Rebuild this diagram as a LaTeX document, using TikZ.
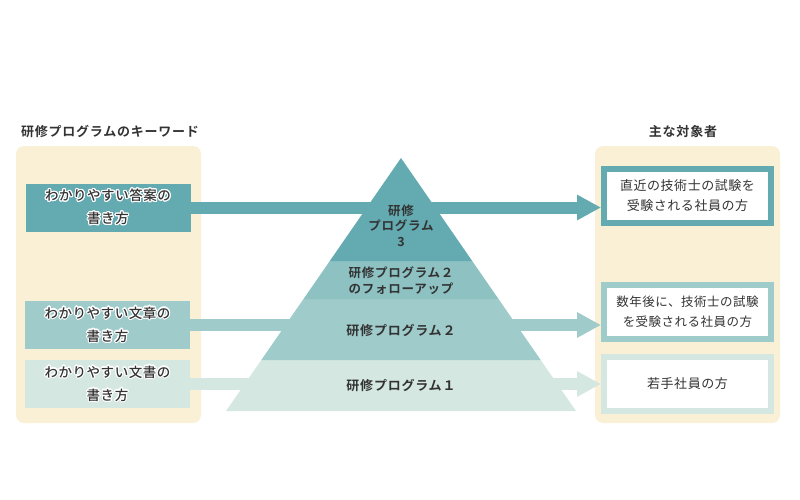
\documentclass[tikz,border=0pt]{standalone}
\usepackage{fontspec}
\setmainfont{Noto Sans CJK JP}[BoldFont={Noto Sans CJK JP Bold}]
\newfontfamily\jpwide{Noto Sans CJK JP}[LetterSpace=4]
\newfontfamily\jpmid{Noto Sans CJK JP Medium}[LetterSpace=4]
\newfontfamily\jpbold{Noto Sans CJK JP Bold}[LetterSpace=6]
\usepackage{xcolor}
\usepackage[copies]{contour}
\contourlength{1.1pt}
\contournumber{20}
\usepackage{tikz}
\usetikzlibrary{arrows.meta,positioning}

\definecolor{cream}{HTML}{FAF0D6}
\definecolor{tealA}{HTML}{63AAB1}
\definecolor{tealB}{HTML}{8DC1C2}
\definecolor{tealC}{HTML}{9FCBCA}
\definecolor{tealD}{HTML}{D4E8E1}
\definecolor{inkgray}{HTML}{333333}

\newcommand{\halo}[1]{\contour{white}{#1}}

\begin{document}
\begin{tikzpicture}[x=1pt, y=-1pt,
        panel/.style={fill=cream, rounded corners=8pt},
        title/.style={font=\jpbold\fontsize{13}{16}\selectfont, text=inkgray, inner sep=0pt},
        keybox/.style={minimum width=165pt, minimum height=48pt, inner sep=0pt, align=center,
            text=inkgray, font=\jpmid\fontsize{13.5}{23}\selectfont},
        target/.style={draw=#1, line width=6pt, fill=white, minimum width=167pt, minimum height=54pt,
            inner sep=0pt, align=center, text=inkgray, font=\jpwide\fontsize{13}{20}\selectfont},
        band/.style={draw=#1, line width=12pt, -{Triangle[width=24pt,length=24pt]}},
        level/.style={fill=#1},
        tier/.style={inner sep=0pt, align=center, text=inkgray, font=\jpbold\fontsize{12.5}{15.5}\selectfont}]

    \useasboundingbox (0,0) rectangle (800,500);

    \fill[panel] (16,146) rectangle (201,423);
    \fill[panel] (595,146) rectangle (780,423);

    \node[title] (kwtitle) at (110,132) {研修プログラムのキーワード};
    \node[title] (tgtitle) at (683,132) {主な対象者};

    \node[keybox, fill=tealA] (kw1) at (108,207.5) {\halo{わかりやすい答案の}\\\halo{書き方}};
    \node[keybox, fill=tealC] (kw2) at (107.5,325) {\halo{わかりやすい文章の}\\\halo{書き方}};
    \node[keybox, fill=tealD] (kw3) at (107.5,384) {\halo{わかりやすい文書の}\\\halo{書き方}};

    \node[target=tealA] (tg1) at (687.5,196) {直近の技術士の試験を\\受験される社員の方};
    \node[target=tealC, font=\jpwide\fontsize{12.5}{20}\selectfont] (tg2) at (687.5,312) {数年後に、技術士の試験\\を受験される社員の方};
    \node[target=tealD] (tg3) at (687.5,384) {若手社員の方};

    \draw[band=tealA] (kw1.east) -- (kw1.east -| tg1.west);
    \draw[band=tealC] (kw2.east) -- (kw2.east -| tg2.west);
    \draw[band=tealD] (kw3.east) -- (kw3.east -| tg3.west);

    \fill[level=tealD] (261.3,360) -- (540.7,360) -- (576,411) -- (226,411) -- cycle;
    \fill[level=tealC] (303.5,299) -- (498.5,299) -- (540.7,360) -- (261.3,360) -- cycle;
    \fill[level=tealB] (329.8,261) -- (472.2,261) -- (498.5,299) -- (303.5,299) -- cycle;
    \fill[level=tealA] (401,158) -- (472.2,261) -- (329.8,261) -- cycle;

    \node[tier] (p3) at (401,225.5) {研修\\プログラム\\3};
    \node[tier] (p2f) at (401,280.5) {研修プログラム２\\のフォローアップ};
    \node[tier, font=\jpbold\fontsize{13}{15.5}\selectfont] (p2) at (401,331) {研修プログラム２};
    \node[tier, font=\jpbold\fontsize{13}{15.5}\selectfont] (p1) at (401,385.5) {研修プログラム１};
\end{tikzpicture}
\end{document}
